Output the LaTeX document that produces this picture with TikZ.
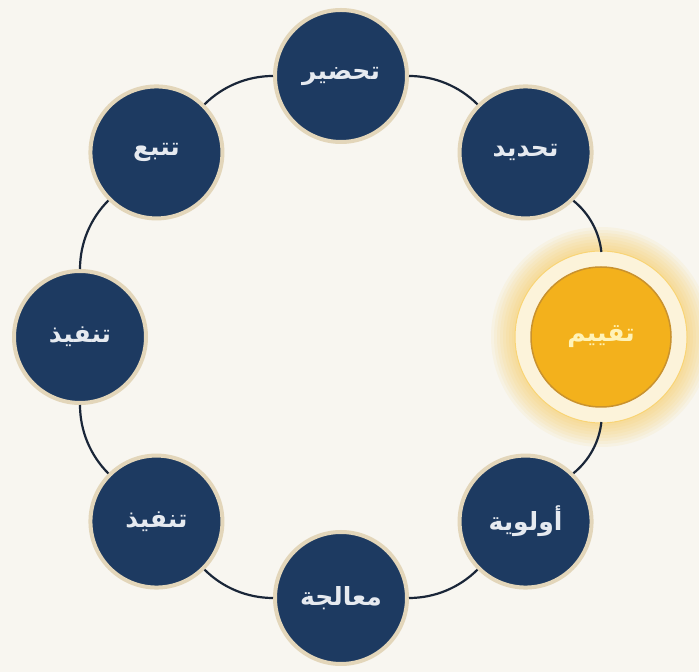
\documentclass[tikz,border=0pt]{standalone}
\usepackage{fontspec}
\usetikzlibrary{calc}
\newfontfamily\arabicfont[Script=Arabic]{DejaVu Sans}
\TeXXeTstate=1
\definecolor{bg}{HTML}{F8F6F0}
\definecolor{navy}{HTML}{1D3A61}
\definecolor{ringtan}{HTML}{E3D6BA}
\definecolor{linecol}{HTML}{1A2638}
\definecolor{gold}{HTML}{F3B11C}
\definecolor{goldedge}{HTML}{C9922E}
\definecolor{paleyellow}{HTML}{FCF3DA}
\definecolor{glow}{HTML}{F6C23A}
\definecolor{txtwhite}{HTML}{E6EAF0}
\definecolor{txtyellow}{HTML}{FFF3B8}
\tikzset{
  stage/.style={circle, fill=navy, draw=ringtan, line width=4pt, minimum size=132pt, inner sep=0pt,
    text=txtwhite, font=\arabicfont\bfseries\fontsize{25}{30}\selectfont},
  activestage/.style={circle, fill=gold, draw=goldedge, line width=1.5pt, minimum size=140pt, inner sep=0pt,
    outer sep=15pt, text=txtyellow, font=\arabicfont\bfseries\fontsize{25}{30}\selectfont},
  link/.style={draw=linecol, line width=2.2pt, bend left=22.5, looseness=0.885}
}
\begin{document}
\begin{tikzpicture}[x=1pt,y=1pt]
\fill[bg] (0,0) rectangle (699,672);
\useasboundingbox (0,0) rectangle (699,672);
\coordinate (ctr) at (341,335);
% glow behind active node
\foreach \r in {110,107,...,86}{
  \fill[glow, opacity=0.07] ($(ctr)+(0:260)$) circle (\r pt);
}
\fill[paleyellow] ($(ctr)+(0:260)$) circle (86pt);
\draw[glow!70, line width=1pt] ($(ctr)+(0:260)$) circle (86pt);
% nodes
\node[stage] (a) at ($(ctr)+(90:261)$) {\beginR تحضير\endR};
\node[stage] (b) at ($(ctr)+(45:261)$) {\beginR تحديد\endR};
\node[activestage] (c) at ($(ctr)+(0:260)$) {\beginR تقييم\endR};
\node[stage] (d) at ($(ctr)+(-45:261)$) {\beginR أولوية\endR};
\node[stage] (e) at ($(ctr)+(-90:261)$) {\beginR معالجة\endR};
\node[stage] (f) at ($(ctr)+(-135:261)$) {\beginR تنفيذ\endR};
\node[stage] (g) at ($(ctr)+(180:261)$) {\beginR تنفيذ\endR};
\node[stage] (h) at ($(ctr)+(135:261)$) {\beginR تتبع\endR};
% connectors
\path (a) edge[link] (b);
\path (b) edge[link] (c);
\path (c) edge[link] (d);
\path (d) edge[link] (e);
\path (e) edge[link] (f);
\path (f) edge[link] (g);
\path (g) edge[link] (h);
\path (h) edge[link] (a);
\end{tikzpicture}
\end{document}
